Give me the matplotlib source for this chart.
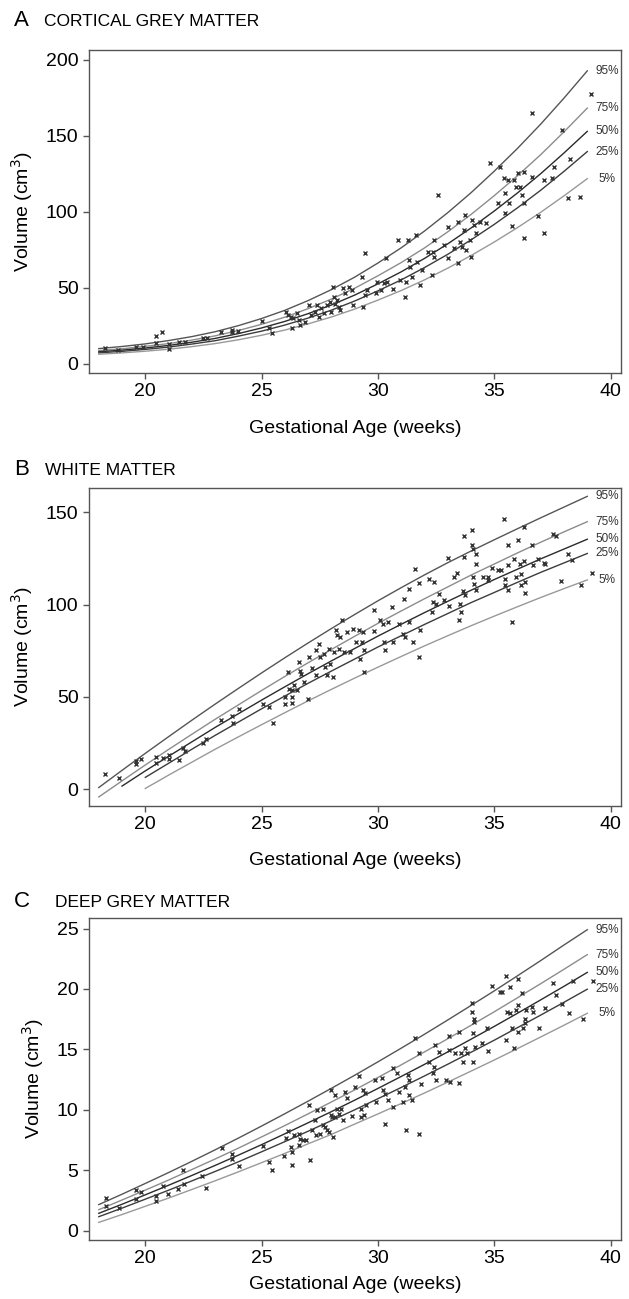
import numpy as np
import matplotlib.pyplot as plt

plt.rcParams['font.family'] = ['Liberation Sans', 'DejaVu Sans']

weeks = list(range(18, 40))
pct_labels = ['95%', '75%', '50%', '25%', '5%']
pct_colors = ['#555555', '#8c8c8c', '#2b2b2b', '#3c3c3c', '#999999']

# ---- A: cortical grey matter ----
cgm_95 = [10.1, 11.5, 13.2, 15.4, 18.0, 21.2, 25.2, 29.9, 35.3, 41.7, 48.9, 57.1, 66.4, 76.4, 87.4, 99.5, 112.6, 126.8, 141.8, 157.8, 174.9, 192.8]
cgm_75 = [8.8, 10.0, 11.6, 13.4, 15.7, 18.5, 22.0, 26.1, 30.8, 36.4, 42.7, 49.8, 58.0, 66.7, 76.3, 86.9, 98.3, 110.7, 123.8, 137.7, 152.7, 168.3]
cgm_50 = [8.0, 9.1, 10.5, 12.2, 14.3, 16.8, 20.0, 23.7, 28.0, 33.1, 38.8, 45.3, 52.7, 60.6, 69.4, 79.0, 89.4, 100.6, 112.5, 125.2, 138.8, 153.0]
cgm_25 = [7.3, 8.3, 9.6, 11.1, 13.1, 15.3, 18.3, 21.6, 25.6, 30.2, 35.4, 41.4, 48.1, 55.3, 63.4, 72.1, 81.6, 91.8, 102.7, 114.3, 126.7, 139.7]
cgm_5 = [6.4, 7.3, 8.4, 9.7, 11.4, 13.4, 15.9, 18.9, 22.3, 26.4, 30.9, 36.1, 42.0, 48.3, 55.3, 63.0, 71.3, 80.2, 89.7, 99.8, 110.6, 121.9]

cgm_age = [18.27, 18.84, 19.6, 19.9, 20.45, 20.7, 20.45, 21.0, 21.0, 21.43, 21.7, 22.47, 22.64, 23.25, 23.73,
           23.73, 24.0, 25.0, 25.3, 25.45, 26.05, 26.15, 26.27, 26.32, 26.36, 26.53, 26.6, 26.67, 26.87, 27.05,
           27.13, 27.3, 27.4, 27.48, 27.56, 27.7, 27.82, 27.94, 27.99, 28.08, 28.12, 28.17, 28.25, 28.34, 28.39,
           28.5, 28.6, 28.77, 28.9, 28.95, 29.3, 29.38, 29.46, 29.46, 29.55, 29.9, 29.98, 30.15, 30.24, 30.33,
           30.41, 30.64, 30.85, 30.93, 31.16, 31.19, 31.28, 31.33, 31.36, 31.45, 31.62, 31.7, 31.8, 31.88, 32.14,
           32.31, 32.37, 32.4, 32.43, 32.57, 32.83, 33.0, 33.0, 33.26, 33.44, 33.44, 33.52, 33.61, 33.7, 33.75,
           33.78, 33.96, 34.0, 34.04, 34.13, 34.21, 34.39, 34.65, 34.82, 35.16, 35.25, 35.42, 35.48, 35.48, 35.6,
           35.65, 35.77, 35.86, 35.95, 36.03, 36.1, 36.2, 36.29, 36.29, 36.29, 36.63, 36.63, 36.9, 37.15, 37.15,
           37.5, 37.58, 37.9, 38.19, 38.27, 38.7, 39.14]
cgm_vol = [10.7, 9.2, 11.4, 11.4, 18.6, 21.3, 14.0, 9.9, 13.2, 14.7, 14.7, 16.9, 16.9, 20.8, 21.3,
           22.4, 21.9, 28.3, 23.5, 20.2, 34.4, 32.2, 31.1, 23.9, 30.0, 33.3, 28.9, 25.7, 27.8, 38.8,
           32.2, 34.4, 38.8, 31.1, 36.6, 33.3, 38.8, 41.0, 34.4, 50.9, 44.3, 39.5, 42.1, 37.7, 35.5,
           49.8, 46.5, 50.9, 48.7, 38.8, 57.5, 37.7, 72.8, 45.4, 48.7, 46.5, 54.2, 48.7, 53.1, 69.5,
           54.2, 49.1, 81.6, 55.3, 44.3, 54.2, 81.6, 68.4, 64.0, 57.5, 84.9, 67.3, 52.0, 61.8, 73.9,
           58.6, 73.9, 81.6, 70.6, 111.2, 78.3, 90.4, 69.5, 76.1, 93.6, 66.2, 80.5, 77.2, 88.2, 98.0,
           75.0, 81.6, 70.6, 94.7, 91.4, 86.0, 93.6, 92.5, 132.0, 105.7, 129.8, 122.1, 99.1, 112.7, 121.1,
           105.7, 90.8, 121.1, 116.7, 125.4, 116.7, 111.2, 126.5, 105.7, 82.7, 164.9, 123.2, 97.4, 86.0, 121.1,
           122.1, 129.8, 153.9, 109.0, 134.9, 110.1, 177.6]

# ---- B: white matter (curves start at different ages) ----
wm_95 = [1.0, 10.3, 19.5, 28.5, 37.4, 46.1, 54.6, 63.0, 71.2, 79.2, 87.0, 94.6, 102.0, 109.1, 116.0, 122.6, 128.9, 135.0, 141.0, 146.9, 152.7, 158.5]
wm_75 = [-4.1, 4.6, 13.2, 21.6, 29.8, 37.9, 45.7, 53.5, 61.1, 68.5, 75.7, 82.8, 89.8, 96.5, 103.1, 109.5, 115.9, 121.9, 127.9, 133.7, 139.3, 144.8]
wm_50 = [1.8, 10.0, 17.9, 25.7, 33.5, 40.9, 48.3, 55.5, 62.6, 69.5, 76.2, 82.9, 89.3, 95.6, 101.7, 107.7, 113.5, 119.1, 124.7, 130.0, 135.3]
wm_25 = [6.5, 14.1, 21.7, 29.2, 36.4, 43.6, 50.5, 57.4, 64.0, 70.5, 77.0, 83.1, 89.2, 95.1, 101.0, 106.5, 112.0, 117.4, 122.5, 127.6]
wm_5 = [0.5, 7.7, 14.7, 21.7, 28.4, 35.0, 41.5, 47.9, 54.1, 60.2, 66.1, 71.9, 77.6, 83.1, 88.5, 93.7, 98.8, 103.8, 108.6, 113.3]

wm_age = [18.28, 18.85, 19.59, 19.62, 19.83, 20.45, 20.48, 20.74, 21.0, 21.0, 21.43, 21.6, 21.69, 22.46, 22.6,
          23.27, 23.71, 23.75, 24.04, 25.04, 25.3, 25.47, 26.02, 26.02, 26.12, 26.16, 26.29, 26.29, 26.29, 26.41,
          26.53, 26.59, 26.64, 26.71, 26.84, 26.98, 27.02, 27.15, 27.33, 27.45, 27.33, 27.53, 27.67, 27.74, 27.79,
          27.91, 27.96, 28.05, 28.1, 28.19, 28.22, 28.31, 28.39, 28.44, 28.53, 28.65, 28.82, 28.91, 29.05, 29.17,
          29.25, 29.3, 29.34, 29.39, 29.42, 29.85, 29.85, 30.11, 30.2, 30.28, 30.32, 30.42, 30.59, 30.63, 30.89,
          31.06, 31.14, 31.18, 31.32, 31.32, 31.49, 31.61, 31.75, 31.75, 31.83, 32.18, 32.31, 32.35, 32.43, 32.48,
          32.61, 32.86, 33.0, 33.04, 33.29, 33.41, 33.47, 33.52, 33.59, 33.64, 33.72, 33.72, 33.76, 34.03, 34.03,
          34.07, 34.1, 34.15, 34.2, 34.2, 34.2, 34.5, 34.72, 34.75, 34.89, 35.18, 35.27, 35.44, 35.48, 35.48,
          35.61, 35.61, 35.61, 35.75, 35.87, 35.92, 36.04, 36.1, 36.13, 36.17, 36.3, 36.3, 36.34, 36.34, 36.61,
          36.65, 36.9, 37.13, 37.2, 37.54, 37.64, 37.88, 38.16, 38.33, 38.71, 39.19]
wm_vol = [8.1, 6.1, 13.9, 15.3, 16.6, 17.5, 14.2, 16.9, 18.4, 16.6, 16.0, 22.5, 20.7, 25.2, 27.4,
          37.7, 39.5, 35.9, 43.6, 46.3, 44.5, 35.9, 49.9, 46.0, 63.5, 54.4, 53.5, 49.9, 46.7, 56.2,
          53.5, 68.9, 64.0, 62.6, 58.0, 49.0, 71.6, 65.8, 75.2, 78.8, 61.7, 71.6, 73.4, 66.2, 61.7,
          76.1, 68.0, 60.8, 74.3, 86.0, 83.3, 76.1, 82.4, 91.4, 74.3, 85.1, 74.3, 86.9, 79.7, 86.0,
          70.7, 79.7, 85.1, 75.2, 63.5, 96.8, 85.5, 91.4, 89.6, 79.7, 75.2, 90.5, 98.6, 79.7, 89.6,
          84.2, 103.1, 82.4, 108.5, 90.5, 79.7, 119.3, 111.6, 71.6, 86.0, 113.9, 95.9, 101.3, 112.1, 100.4,
          105.8, 102.2, 125.1, 99.0, 114.8, 117.0, 91.4, 100.4, 95.9, 107.3, 136.8, 125.7, 104.9, 140.4, 132.0,
          130.2, 114.8, 111.2, 127.5, 122.0, 108.0, 114.8, 113.4, 114.8, 119.9, 118.4, 118.8, 146.4, 113.9, 110.3,
          132.0, 121.1, 108.0, 90.5, 124.8, 114.8, 134.7, 122.0, 116.6, 110.3, 141.9, 123.8, 112.1, 106.2, 132.0,
          121.1, 124.8, 122.4, 122.0, 137.9, 136.8, 112.5, 127.5, 124.2, 110.7, 117.0]

# ---- C: deep grey matter ----
dgm_95 = [2.16, 3.02, 3.91, 4.81, 5.74, 6.69, 7.66, 8.66, 9.68, 10.72, 11.78, 12.86, 13.97, 15.10, 16.25, 17.43, 18.63, 19.84, 21.09, 22.35, 23.64, 24.9]
dgm_75 = [1.74, 2.54, 3.36, 4.19, 5.06, 5.93, 6.83, 7.76, 8.70, 9.67, 10.65, 11.65, 12.68, 13.72, 14.79, 15.88, 16.99, 18.11, 19.27, 20.44, 21.63, 22.84]
dgm_50 = [1.44, 2.19, 2.97, 3.76, 4.57, 5.40, 6.25, 7.12, 8.02, 8.93, 9.85, 10.80, 11.77, 12.76, 13.76, 14.79, 15.84, 16.90, 17.99, 19.10, 20.22, 21.37]
dgm_25 = [1.16, 1.87, 2.61, 3.35, 4.12, 4.90, 5.70, 6.53, 7.37, 8.23, 9.11, 10.00, 10.92, 11.85, 12.80, 13.77, 14.76, 15.76, 16.80, 17.84, 18.90, 19.98]
dgm_5 = [0.69, 1.34, 2.02, 2.70, 3.41, 4.13, 4.87, 5.63, 6.40, 7.19, 7.97, 8.82, 9.66, 10.52, 11.39, 12.29, 13.20, 14.12, 15.07, 16.03, 17.00, 17.99]

dgm_age = [18.29, 18.29, 18.85, 19.59, 19.62, 19.83, 20.44, 20.44, 20.74, 20.99, 21.42, 21.62, 21.68, 22.44, 22.62,
           23.3, 23.73, 23.73, 24.03, 25.04, 25.32, 25.43, 25.98, 26.03, 26.15, 26.26, 26.29, 26.32, 26.38, 26.6,
           26.6, 26.67, 26.8, 26.89, 27.03, 27.06, 27.18, 27.28, 27.32, 27.4, 27.49, 27.62, 27.66, 27.74, 27.83,
           27.91, 27.97, 28.0, 28.03, 28.09, 28.17, 28.17, 28.26, 28.31, 28.43, 28.48, 28.6, 28.68, 28.89, 29.03,
           29.2, 29.28, 29.28, 29.37, 29.4, 29.45, 29.5, 29.88, 29.91, 30.19, 30.22, 30.31, 30.31, 30.43, 30.65,
           30.65, 30.82, 30.91, 31.08, 31.16, 31.21, 31.28, 31.33, 31.33, 31.47, 31.59, 31.76, 31.76, 31.85, 32.19,
           32.36, 32.41, 32.44, 32.5, 32.62, 32.92, 33.04, 33.04, 33.09, 33.3, 33.47, 33.5, 33.56, 33.64, 33.73,
           33.81, 34.03, 34.03, 34.07, 34.07, 34.12, 34.15, 34.19, 34.46, 34.67, 34.75, 34.92, 35.26, 35.35, 35.49,
           35.52, 35.56, 35.66, 35.69, 35.78, 35.83, 35.95, 36.03, 36.03, 36.03, 36.2, 36.24, 36.34, 36.34, 36.38,
           36.63, 36.68, 36.92, 37.2, 37.54, 37.66, 37.91, 38.22, 38.38, 38.8, 39.25]
dgm_vol = [2.71, 2.02, 1.85, 3.38, 2.63, 3.18, 2.91, 2.44, 3.74, 3.05, 3.46, 5.04, 3.88, 4.49, 3.54,
           6.87, 6.31, 5.95, 5.32, 6.98, 5.68, 5.04, 6.15, 7.70, 8.25, 6.92, 6.51, 5.40, 7.89, 8.03,
           7.06, 7.61, 7.53, 7.48, 10.38, 5.81, 8.36, 9.19, 7.89, 10.02, 8.03, 10.1, 8.72, 8.58, 8.31,
           8.17, 9.55, 11.68, 9.41, 7.75, 11.21, 9.41, 10.1, 9.69, 10.1, 9.14, 11.49, 10.94, 9.47, 11.9,
           12.8, 9.41, 10.1, 11.63, 9.55, 11.41, 10.38, 12.46, 10.66, 12.6, 11.63, 8.86, 11.35, 10.8, 13.43,
           10.24, 13.01, 11.49, 10.66, 11.9, 8.31, 12.87, 12.46, 11.21, 10.8, 15.92, 14.67, 7.97, 12.13, 13.98,
           13.01, 13.57, 15.37, 12.46, 14.81, 12.46, 16.11, 14.95, 12.32, 14.73, 16.47, 12.24, 14.67, 13.98, 15.09,
           14.67, 18.83, 18.13, 16.33, 13.98, 17.5, 17.3, 15.23, 15.5, 16.75, 14.9, 20.27, 19.71, 19.71, 21.1,
           15.78, 18.13, 18.0, 20.16, 16.75, 15.09, 18.27, 20.82, 18.69, 16.47, 19.66, 16.75, 17.5, 17.16, 18.22,
           18.49, 18.13, 16.75, 18.41, 20.49, 19.52, 18.77, 18.0, 20.63, 17.5, 20.63]

panels = [
    ('A', 'CORTICAL GREY MATTER', [cgm_95, cgm_75, cgm_50, cgm_25, cgm_5], cgm_age, cgm_vol,
     [0, 50, 100, 150, 200], (-5.9, 206.6), 0.7129, 0.2487, 0.980, 44, 14),
    ('B', 'WHITE MATTER', [wm_95, wm_75, wm_50, wm_25, wm_5], wm_age, wm_vol,
     [0, 50, 100, 150], (-9.0, 163.0), 0.3795, 0.2448, 0.6343, 45, 13),
    ('C', 'DEEP GREY MATTER', [dgm_95, dgm_75, dgm_50, dgm_25, dgm_5], dgm_age, dgm_vol,
     [0, 5, 10, 15, 20, 25], (-0.77, 25.87), 0.0454, 0.2479, 0.3020, 55, 6),
]

fig = plt.figure(figsize=(6.29, 12.99), dpi=100)
for letter, title, curves, age, vol, yticks, ylim, bottom, height, ty, tx, xpad in panels:
    ax = fig.add_axes([0.1415, bottom, 0.8458, height])
    for vals, lab, col in zip(curves, pct_labels, pct_colors):
        wk = weeks[len(weeks) - len(vals):]
        ax.plot(wk, vals, color=col, lw=1.0)
        ax.text(39.85, vals[-1], lab, fontsize=8.5, color='#333333', ha='center', va='center')
    ax.plot(age, vol, 'x', color='#333333', ms=3.5, mew=1.0)
    ax.set_xlim(17.58, 40.45)
    ax.set_ylim(*ylim)
    ax.set_xticks([20, 25, 30, 35, 40])
    ax.set_yticks(yticks)
    for sp in ax.spines.values():
        sp.set_color('#555555')
        sp.set_linewidth(1.0)
    ax.tick_params(direction='out', length=4.5, width=1, color='#555555', labelsize=14, pad=3)
    ax.set_xlabel('Gestational Age (weeks)', fontsize=14, labelpad=xpad)
    ax.set_ylabel('Volume (cm$^3$)', fontsize=14, labelpad=8)
    fig.text(14 / 629, ty, letter, fontsize=16, va='baseline', ha='left')
    fig.text(tx / 629, ty, title, fontsize=12.5, va='baseline', ha='left')

plt.savefig('out.png', dpi=100)
